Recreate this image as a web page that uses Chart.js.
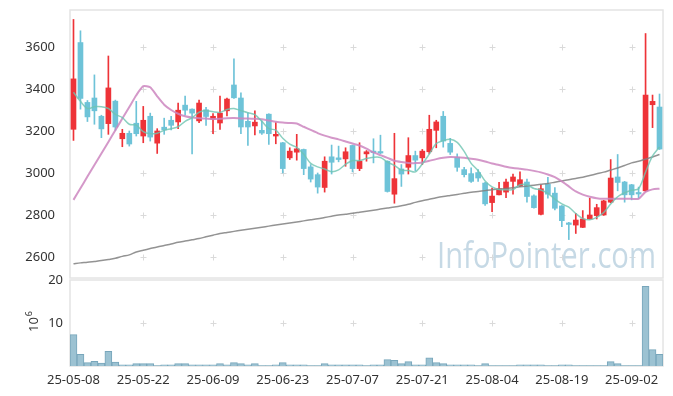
<!DOCTYPE html>
<html>
<head>
<meta charset="utf-8">
<script src="https://cdn.jsdelivr.net/npm/chart.js@4.4.1/dist/chart.umd.min.js"></script>
<style>
  html, body { margin: 0; padding: 0; background: #fff; }
  #wrap { position: relative; width: 673px; height: 396px; }
  #price { position: absolute; left: 0; top: 0; }
  #vol { position: absolute; left: 0; top: 262px; }
</style>
</head>
<body>
<div id="wrap">
  <canvas id="price" width="673" height="279"></canvas>
  <canvas id="vol" width="673" height="134"></canvas>
</div>
<script>
// ---------------- DATA ----------------
const dates = [
  "25-05-08","25-05-09","25-05-12","25-05-13","25-05-14","25-05-15","25-05-16","25-05-19","25-05-20","25-05-21",
  "25-05-22","25-05-23","25-05-26","25-05-27","25-05-28","25-05-29","25-05-30","25-06-02","25-06-04","25-06-05",
  "25-06-09","25-06-10","25-06-11","25-06-12","25-06-13","25-06-16","25-06-17","25-06-18","25-06-19","25-06-20",
  "25-06-23","25-06-24","25-06-25","25-06-26","25-06-27","25-06-30","25-07-01","25-07-02","25-07-03","25-07-04",
  "25-07-07","25-07-08","25-07-09","25-07-10","25-07-11","25-07-14","25-07-15","25-07-16","25-07-17","25-07-18",
  "25-07-21","25-07-22","25-07-23","25-07-24","25-07-25","25-07-28","25-07-29","25-07-30","25-07-31","25-08-01",
  "25-08-04","25-08-05","25-08-06","25-08-07","25-08-08","25-08-11","25-08-12","25-08-13","25-08-14","25-08-18",
  "25-08-19","25-08-20","25-08-21","25-08-22","25-08-25","25-08-26","25-08-27","25-08-28","25-08-29","25-09-01",
  "25-09-02","25-09-03","25-09-04","25-09-05","25-09-08"
];

const openP = [
  3208,3621,3336,3357,3270,3235,3342,3163,3189,3237,
  3176,3270,3142,3218,3251,3243,3323,3304,3248,3301,
  3256,3238,3296,3419,3357,3246,3224,3203,3280,3176,
  3144,3072,3099,3112,3029,2992,2931,3077,3072,3067,
  3131,3021,3091,3100,3100,3056,2899,3019,3027,3083,
  3072,3101,3203,3270,3141,3075,3016,2997,3002,2952,
  2859,2896,2909,2960,2939,2957,2891,2803,2947,2904,
  2843,2762,2752,2741,2781,2797,2800,2861,2981,2957,
  2944,2904,2915,3325,3314
];
const highP = [
  3731,3677,3345,3467,3275,3557,3347,3208,3200,3341,
  3317,3285,3211,3261,3270,3333,3366,3306,3347,3312,
  3283,3366,3357,3544,3382,3286,3296,3248,3282,3240,
  3146,3120,3184,3114,3040,3000,3077,3133,3128,3120,
  3133,3144,3107,3163,3180,3058,3189,3040,3168,3104,
  3112,3275,3251,3293,3165,3091,3027,3024,3016,2955,
  2928,2955,2971,2995,3005,2971,2896,2944,2979,2931,
  2845,2765,2808,2821,2880,2851,2870,3064,3088,2960,
  2946,2933,3664,3371,3376
];
const lowP = [
  3155,3304,3245,3232,3168,3184,3203,3125,3128,3176,
  3144,3152,3093,3184,3205,3211,3275,3091,3240,3227,
  3187,3208,3272,3355,3187,3131,3181,3184,3136,3139,
  3000,3064,3061,2992,2957,2904,2909,2995,3053,3032,
  3005,3011,3056,3048,3092,2909,2856,2936,2995,3011,
  3040,3091,3120,3123,3088,3008,2981,2955,2960,2845,
  2816,2895,2883,2899,2936,2861,2832,2800,2880,2824,
  2744,2683,2712,2740,2780,2781,2798,2858,2915,2861,
  2872,2880,2912,3216,3112
];
const closeP = [
  3448,3355,3267,3296,3210,3405,3219,3189,3138,3187,
  3251,3171,3200,3205,3227,3299,3299,3285,3333,3269,
  3270,3285,3352,3358,3219,3219,3242,3190,3187,3184,
  3021,3104,3115,3021,2971,2933,3056,3051,3064,3101,
  3021,3056,3101,3097,3095,2912,2973,2995,3083,3061,
  3104,3208,3243,3152,3099,3027,2992,2960,2976,2853,
  2890,2925,2957,2981,2968,2888,2835,2925,2899,2832,
  2773,2755,2776,2781,2800,2835,2867,2976,2955,2896,
  2896,2900,3371,3341,3114
];

// moving averages
const maShort = [
  3384,3341,3307,3315,3315,3307,3279,3264,3232,3228,
  3197,3187,3189,3203,3211,3220,3246,3263,3289,3297,
  3291,3288,3302,3307,3297,3287,3278,3246,3211,3204,
  3165,3137,3122,3089,3046,3029,3019,3006,3015,3041,
  3059,3059,3069,3075,3074,3052,3036,3014,3012,3005,
  3043,3090,3140,3154,3161,3146,3103,3046,3011,2962,
  2934,2921,2920,2921,2944,2944,2926,2919,2903,2876,
  2853,2837,2807,2783,2777,2789,2812,2852,2887,2906,
  2918,2925,3004,3081,3124
];
const maMid = [
  2872,2927,2983,3038,3093,3148,3204,3259,3314,3370,
  3413,3408,3365,3325,3300,3282,3270,3264,3261,3259,
  3257,3258,3261,3262,3260,3259,3258,3256,3250,3244,
  3240,3238,3236,3220,3205,3190,3178,3168,3160,3150,
  3140,3131,3116,3098,3085,3072,3058,3052,3048,3047,
  3050,3058,3066,3072,3076,3075,3072,3068,3063,3055,
  3045,3038,3030,3024,3020,3016,3010,3003,2993,2980,
  2960,2936,2912,2897,2887,2880,2877,2877,2877,2877,
  2877,2877,2910,2922,2925
];
const maLong = [
  2568,2572,2575,2579,2583,2588,2594,2603,2610,2624,
  2632,2640,2648,2655,2662,2670,2676,2682,2688,2696,
  2704,2712,2717,2722,2727,2732,2737,2742,2747,2752,
  2757,2762,2767,2772,2777,2782,2788,2794,2800,2804,
  2808,2813,2818,2823,2828,2833,2838,2844,2851,2860,
  2868,2875,2882,2888,2893,2898,2903,2908,2912,2916,
  2920,2923,2926,2930,2934,2938,2942,2946,2950,2956,
  2962,2968,2974,2980,2988,2996,3004,3014,3024,3036,
  3048,3056,3066,3076,3088
];

// volume in units of 10^6
const volume = [
  7.3,2.7,0.8,1.1,0.7,3.4,0.9,0.3,0.3,0.55,
  0.55,0.55,0.1,0.3,0.3,0.55,0.55,0.3,0.3,0.3,
  0.3,0.55,0.3,0.8,0.55,0.3,0.55,0.1,0.1,0.3,
  0.8,0.3,0.3,0.3,0.1,0.1,0.55,0.3,0.3,0.3,
  0.3,0.3,0.1,0.3,0.3,1.5,1.3,0.55,1.0,0.3,
  0.3,1.9,0.8,0.55,0.3,0.3,0.3,0.3,0.1,0.55,
  0.1,0.1,0.1,0.1,0.3,0.3,0.3,0.3,0.1,0.1,
  0.3,0.3,0.1,0.1,0.1,0.1,0.1,1.0,0.55,0.1,
  0.1,0.1,18.5,3.8,2.7
];

const priceTicks = [2600, 2800, 3000, 3200, 3400, 3600];
const volTicks = [10, 20];
const labelEvery = 10;

// ---------------- STYLE ----------------
const UP = "#ee3338";
const DOWN = "#6ec3d8";
const tickFont = { family: "Noto Sans", size: 13 };

const candleColors = closeP.map((c, i) => c >= openP[i] ? UP : DOWN);
const bodies = openP.map((o, i) => [o, closeP[i]]);
const wicks = lowP.map((l, i) => [l, highP[i]]);

// y axis: fixed width, no extra room for half labels
function fitY(s) {
  s.width = 70;
  s.paddingTop = 0;
  s.paddingBottom = 0;
}

function drawFrame(chart, yVals) {
  const { ctx, chartArea: a, scales: { x, y } } = chart;
  ctx.save();
  ctx.strokeStyle = "#e4e4e4";
  ctx.lineWidth = 1.5;
  ctx.strokeRect(a.left, a.top, a.right - a.left, a.bottom - a.top);
  ctx.strokeStyle = "#dadada";
  ctx.lineWidth = 1;
  for (let i = labelEvery; i < dates.length; i += labelEvery) {
    const px = Math.round(x.getPixelForValue(i)) + 0.5;
    yVals.forEach(v => {
      const py = Math.round(y.getPixelForValue(v)) + 0.5;
      ctx.beginPath();
      ctx.moveTo(px - 3, py); ctx.lineTo(px + 3, py);
      ctx.moveTo(px, py - 3); ctx.lineTo(px, py + 3);
      ctx.stroke();
    });
  }
  ctx.restore();
}

const priceFrame = {
  id: "priceFrame",
  beforeDatasetsDraw(chart) {
    drawFrame(chart, priceTicks);
    const { ctx, chartArea: a } = chart;
    ctx.save();
    ctx.font = "36px 'Open Sans'";
    ctx.fillStyle = "#c6d9e5";
    ctx.textBaseline = "alphabetic";
    const text = "InfoPointer.com";
    const w = ctx.measureText(text).width;
    const target = 219;
    ctx.translate(a.right - 7 - target, 268);
    ctx.scale(target / w, 1);
    ctx.fillText(text, 0, 0);
    ctx.restore();
  }
};

const volFrame = {
  id: "volFrame",
  beforeDatasetsDraw(chart) {
    drawFrame(chart, [10]);
  },
  afterDraw(chart) {
    const { ctx, chartArea: a, scales: { y } } = chart;
    const y10 = y.getPixelForValue(10);

    // axis title 10^6, rotated
    ctx.save();
    ctx.fillStyle = "#333";
    ctx.translate(38, y10 + 9);
    ctx.rotate(-Math.PI / 2);
    ctx.textAlign = "left";
    ctx.textBaseline = "alphabetic";
    ctx.font = "13px 'Noto Sans'";
    ctx.fillText("10", 0, 0);
    const w10 = ctx.measureText("10").width;
    ctx.font = "9px 'Noto Sans'";
    ctx.fillText("6", w10 + 1, -6);
    ctx.restore();

    // tick labels
    ctx.save();
    ctx.fillStyle = "#333";
    ctx.font = "13px 'Noto Sans'";
    ctx.textAlign = "right";
    ctx.textBaseline = "middle";
    volTicks.forEach(v => ctx.fillText(String(v), a.left - 7, y.getPixelForValue(v)));
    ctx.restore();
  }
};

// ---------------- PRICE CHART ----------------
new Chart(document.getElementById("price"), {
  data: {
    labels: dates,
    datasets: [
      { type: "line", data: maShort, borderColor: "rgba(110,196,178,0.8)", borderWidth: 1.5, pointRadius: 0, tension: 0.3, order: 0 },
      { type: "line", data: maMid, borderColor: "rgba(204,134,192,0.85)", borderWidth: 2, pointRadius: 0, tension: 0.2, order: 0 },
      { type: "line", data: maLong, borderColor: "rgba(128,128,128,0.85)", borderWidth: 1.5, pointRadius: 0, tension: 0.3, order: 0 },
      { type: "bar", data: wicks, backgroundColor: candleColors, barThickness: 1, grouped: false, order: 2 },
      { type: "bar", data: bodies, backgroundColor: candleColors, barThickness: 5, minBarLength: 1.5, grouped: false, order: 1 }
    ]
  },
  options: {
    responsive: false,
    animation: false,
    devicePixelRatio: 1,
    layout: { padding: { top: 10, right: 10, bottom: 1, left: 0 } },
    plugins: { legend: { display: false }, tooltip: { enabled: false } },
    scales: {
      x: { display: false, offset: true },
      y: {
        min: 2500, max: 3776,
        afterFit: fitY,
        afterBuildTicks: s => { s.ticks = priceTicks.map(v => ({ value: v })); },
        grid: { display: false },
        border: { display: false },
        ticks: { autoSkip: false, color: "#333", font: tickFont, padding: 7, callback: v => String(v) }
      }
    }
  },
  plugins: [priceFrame]
});

// ---------------- VOLUME CHART ----------------
new Chart(document.getElementById("vol"), {
  type: "bar",
  data: {
    labels: dates,
    datasets: [{
      data: volume,
      backgroundColor: "#9cc2d2",
      borderColor: "#78a6bb",
      borderWidth: 1,
      barPercentage: 1,
      categoryPercentage: 1
    }]
  },
  options: {
    responsive: false,
    animation: false,
    devicePixelRatio: 1,
    layout: { padding: { top: 18, right: 10, bottom: 0, left: 0 } },
    plugins: { legend: { display: false }, tooltip: { enabled: false } },
    scales: {
      x: {
        offset: true,
        afterFit: s => { s.height = 30; s.paddingLeft = 0; s.paddingRight = 0; },
        grid: { display: false, drawTicks: false },
        border: { display: false },
        ticks: {
          autoSkip: false, minRotation: 0, maxRotation: 0, padding: 6,
          color: "#333", font: tickFont,
          callback: (v, i) => i % labelEvery === 0 ? dates[i] : null
        }
      },
      y: {
        min: 0, max: 20,
        afterFit: fitY,
        afterBuildTicks: s => { s.ticks = volTicks.map(v => ({ value: v })); },
        grid: { display: false },
        border: { display: false },
        ticks: { display: false }
      }
    }
  },
  plugins: [volFrame]
});
</script>
</body>
</html>
